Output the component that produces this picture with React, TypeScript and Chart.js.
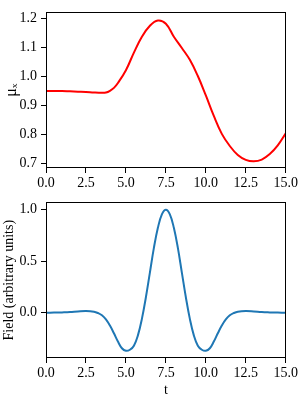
import React, { useEffect, useRef } from "react";
import { Chart, registerables } from "chart.js";

Chart.register(...registerables);

// ---- data ----
const muTimes = [0, 0.5, 1, 1.5, 2, 2.5, 3, 3.5, 3.75, 4, 4.25, 4.5, 5, 5.5, 6, 6.5, 7, 7.5, 8, 8.5, 9, 9.5, 10, 10.5, 11, 11.5, 12, 12.5, 13, 13.5, 14, 14.5, 15];
const muValues = [0.95, 0.95, 0.95, 0.949, 0.948, 0.947, 0.945, 0.944, 0.945, 0.951, 0.961, 0.978, 1.022, 1.083, 1.138, 1.176, 1.194, 1.183, 1.138, 1.099, 1.058, 1.002, 0.935, 0.864, 0.802, 0.76, 0.729, 0.712, 0.707, 0.713, 0.732, 0.762, 0.804];

const fieldTimes = [0, 0.5, 1, 1.5, 2, 2.5, 3, 3.25, 3.5, 3.75, 4, 4.25, 4.5, 4.75, 5, 5.25, 5.5, 5.75, 6, 6.25, 6.5, 6.75, 7, 7.25, 7.5, 7.75, 8, 8.25, 8.5, 8.75, 9, 9.25, 9.5, 9.75, 10, 10.25, 10.5, 10.75, 11, 11.25, 11.5, 11.75, 12, 12.5, 13, 13.5, 14, 14.5, 15];
const fieldValues = [0, 0.001, 0.003, 0.006, 0.012, 0.016, 0.01, -0.003, -0.025, -0.065, -0.125, -0.2, -0.28, -0.345, -0.37, -0.36, -0.32, -0.22, -0.06, 0.15, 0.39, 0.63, 0.825, 0.955, 1.0, 0.955, 0.825, 0.63, 0.39, 0.15, -0.06, -0.22, -0.32, -0.36, -0.37, -0.345, -0.28, -0.2, -0.125, -0.065, -0.025, -0.003, 0.01, 0.016, 0.012, 0.006, 0.003, 0.001, 0];

const xTickValues = [0, 2.5, 5, 7.5, 10, 12.5, 15];
const muTickValues = [0.7, 0.8, 0.9, 1.0, 1.1, 1.2];
const fieldTickValues = [0, 0.5, 1.0];

const xRange = [0, 15];
const muRange = [0.684, 1.222];
const fieldRange = [-0.44, 1.072];

const muLabel = "μₓ";
const fieldLabel = "Field (arbitrary units)";
const timeLabel = "t";

const FONT_FAMILY = '"Liberation Serif", "Times New Roman", "DejaVu Serif", serif';
const FONT = { family: FONT_FAMILY, size: 14, lineHeight: 1.2 };
const MU_FONT = { family: FONT_FAMILY, size: 16, lineHeight: 1.0 };

const framePlugin = {
  id: "frame",
  afterDatasetsDraw(chart: any) {
    const { ctx, chartArea } = chart;
    const l = Math.round(chartArea.left) + 0.5;
    const t = Math.round(chartArea.top) + 0.5;
    const r = Math.round(chartArea.right) - 0.5;
    const b = Math.round(chartArea.bottom) - 0.5;
    ctx.save();
    ctx.strokeStyle = "#000";
    ctx.lineWidth = 1;
    ctx.strokeRect(l, t, r - l, b - t);
    ctx.restore();
  },
};

function makeConfig(opts: {
  xs: number[];
  ys: number[];
  color: string;
  yRange: number[];
  yTicks: number[];
  yTitle: string;
  yTitleFont: any;
  yTitlePad: number;
  xTitle: string | null;
  xHeight: number;
}): any {
  return {
    type: "line",
    data: {
      datasets: [
        {
          data: opts.xs.map((x, i) => ({ x, y: opts.ys[i] })),
          borderColor: opts.color,
          borderWidth: 2,
          pointRadius: 0,
          fill: false,
          tension: 0.4,
        },
      ],
    },
    options: {
      responsive: false,
      animation: false,
      devicePixelRatio: 1,
      layout: { padding: { top: 5, right: 14, left: 0, bottom: 0 } },
      plugins: { legend: { display: false }, tooltip: { enabled: false } },
      scales: {
        x: {
          type: "linear",
          min: xRange[0],
          max: xRange[1],
          afterBuildTicks: (s: any) => {
            s.ticks = xTickValues.map((v) => ({ value: v }));
          },
          afterFit: (s: any) => {
            s.height = opts.xHeight;
          },
          grid: { display: true, drawOnChartArea: false, drawTicks: true, tickLength: 5, color: "#000", lineWidth: 1 },
          border: { display: false },
          ticks: {
            color: "#000",
            font: FONT,
            padding: 2,
            maxRotation: 0,
            autoSkip: false,
            callback: (v: any) => Number(v).toFixed(1),
          },
          title: {
            display: !!opts.xTitle,
            text: opts.xTitle || "",
            color: "#000",
            font: FONT,
            padding: { top: 0, bottom: 1 },
          },
        },
        y: {
          type: "linear",
          min: opts.yRange[0],
          max: opts.yRange[1],
          afterBuildTicks: (s: any) => {
            s.ticks = opts.yTicks.map((v) => ({ value: v }));
          },
          afterFit: (s: any) => {
            s.width = 46;
          },
          grid: { display: true, drawOnChartArea: false, drawTicks: true, tickLength: 5, color: "#000", lineWidth: 1 },
          border: { display: false },
          ticks: {
            color: "#000",
            font: FONT,
            padding: 4,
            autoSkip: false,
            callback: (v: any) => Number(v).toFixed(1),
          },
          title: {
            display: true,
            text: opts.yTitle,
            color: "#000",
            font: opts.yTitleFont,
            padding: { top: opts.yTitlePad, bottom: 0 },
          },
        },
      },
    },
    plugins: [framePlugin],
  };
}

export default function App() {
  const topRef = useRef<HTMLCanvasElement | null>(null);
  const botRef = useRef<HTMLCanvasElement | null>(null);

  useEffect(() => {
    const c1 = new Chart(
      topRef.current as HTMLCanvasElement,
      makeConfig({
        xs: muTimes,
        ys: muValues,
        color: "#ff0000",
        yRange: muRange,
        yTicks: muTickValues,
        yTitle: muLabel,
        yTitleFont: MU_FONT,
        yTitlePad: 4,
        xTitle: null,
        xHeight: 22,
      })
    );
    const c2 = new Chart(
      botRef.current as HTMLCanvasElement,
      makeConfig({
        xs: fieldTimes,
        ys: fieldValues,
        color: "#1f77b4",
        yRange: fieldRange,
        yTicks: fieldTickValues,
        yTitle: fieldLabel,
        yTitleFont: FONT,
        yTitlePad: 1,
        xTitle: timeLabel,
        xHeight: 42,
      })
    );
    return () => {
      c1.destroy();
      c2.destroy();
    };
  }, []);

  return (
    <div style={{ position: "absolute", left: 0, top: 0, width: 300, height: 400, background: "#fff" }}>
      <canvas ref={topRef} width={300} height={190} style={{ position: "absolute", left: 0, top: 0, width: 300, height: 190 }} />
      <canvas ref={botRef} width={300} height={210} style={{ position: "absolute", left: 0, top: 190, width: 300, height: 210 }} />
    </div>
  );
}
